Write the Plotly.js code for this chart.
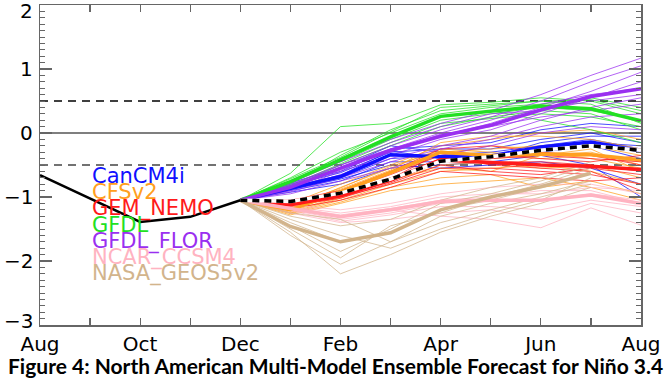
<!DOCTYPE html>
<html>
<head>
<meta charset="utf-8">
<script src="https://cdn.plot.ly/plotly-3.0.1.min.js"></script>
<style>
html,body{margin:0;padding:0;background:#fff;}
#chart{width:671px;height:378px;}
</style>
</head>
<body>
<div id="chart"></div>
<script>
// Axis month labels (Aug .. Aug), index 0..12
const monthLabels = ['Aug','Sep','Oct','Nov','Dec','Jan','Feb','Mar','Apr','May','Jun','Jul','Aug'];
const yTickValues = [2,1,0,-1,-2,-3];
const obsX = [0,1,2,3,4];
const obsValues = [-0.66,-1.02,-1.39,-1.31,-1.05];
const fcstX = [4,5,6,7,8,9,10,11,12];

const modelNames = ['CanCM4i','CFSv2','GEM_NEMO','GFDL','GFDL_FLOR','NCAR_CCSM4','NASA_GEOS5v2'];
const modelColors = ['#1010ff','#ffa020','#ff1a1a','#22e022','#9a2ff0','#ffb3c1','#d2b48c'];

const canMembers = [
  [-1.05,-0.80,-0.60,-0.25,-0.20,-0.15,0.05,0.15,0.10],
  [-1.05,-0.85,-0.70,-0.40,-0.35,-0.30,-0.20,-0.10,-0.25],
  [-1.05,-0.90,-0.75,-0.45,-0.45,-0.40,-0.30,-0.20,-0.40],
  [-1.05,-0.82,-0.62,-0.30,-0.25,-0.25,-0.10,0.00,-0.15],
  [-1.05,-0.88,-0.72,-0.50,-0.55,-0.50,-0.45,-0.55,-0.80],
  [-1.05,-0.78,-0.55,-0.20,-0.30,-0.35,-0.25,-0.15,-0.20],
  [-1.05,-0.92,-0.80,-0.55,-0.50,-0.45,-0.35,-0.50,-1.00],
  [-1.05,-0.84,-0.66,-0.28,-0.40,-0.38,-0.15,-0.05,-0.05]
];
const canMean = [-1.05,-0.86,-0.68,-0.34,-0.37,-0.36,-0.22,-0.14,-0.28];

const cfsMembers = [
  [-1.05,-1.10,-0.80,-0.50,-0.20,-0.10,0.00,0.05,-0.10],
  [-1.05,-1.15,-0.90,-0.60,-0.30,-0.25,-0.20,-0.15,-0.30],
  [-1.05,-1.20,-0.95,-0.70,-0.45,-0.40,-0.35,-0.30,-0.50],
  [-1.05,-1.25,-1.05,-0.80,-0.60,-0.55,-0.50,-0.60,-0.80],
  [-1.05,-1.18,-0.85,-0.55,-0.25,-0.30,-0.40,-0.35,-0.45],
  [-1.05,-1.22,-1.00,-0.75,-0.50,-0.45,-0.55,-0.50,-0.70],
  [-1.05,-1.12,-0.88,-0.58,-0.15,-0.05,-0.05,-0.10,-0.25],
  [-1.05,-1.28,-1.10,-0.90,-0.80,-0.75,-0.70,-0.85,-1.05],
  [-1.05,-1.16,-0.92,-0.62,-0.35,-0.20,-0.25,-0.20,-0.35],
  [-1.05,-1.24,-1.02,-0.72,-0.55,-0.60,-0.35,-0.25,-0.60],
  [-1.05,-1.14,-0.86,-0.52,-0.28,-0.35,-0.30,-0.40,-0.55],
  [-1.05,-1.26,-1.08,-0.85,-0.70,-0.65,-0.85,-0.75,-0.95]
];
const cfsMean = [-1.05,-1.20,-0.92,-0.62,-0.30,-0.35,-0.33,-0.34,-0.42];

const gemMembers = [
  [-1.05,-1.05,-0.90,-0.60,-0.25,-0.20,-0.30,-0.35,-0.50],
  [-1.05,-1.10,-0.95,-0.70,-0.40,-0.45,-0.45,-0.50,-0.60],
  [-1.05,-1.15,-1.00,-0.80,-0.55,-0.55,-0.60,-0.65,-0.80],
  [-1.05,-1.12,-0.98,-0.75,-0.45,-0.40,-0.35,-0.40,-0.45],
  [-1.05,-1.08,-0.92,-0.65,-0.35,-0.50,-0.55,-0.60,-0.90],
  [-1.05,-1.18,-1.05,-0.85,-0.60,-0.65,-0.70,-0.75,-0.70],
  [-1.05,-1.10,-0.96,-0.72,-0.30,-0.35,-0.40,-0.45,-0.35],
  [-1.05,-1.14,-1.02,-0.78,-0.50,-0.60,-0.65,-0.55,-0.65]
];
const gemMean = [-1.05,-1.12,-0.98,-0.74,-0.42,-0.46,-0.50,-0.52,-0.57];

const gfdlMembers = [
  [-1.05,-0.63,0.10,0.15,0.44,0.48,0.55,0.50,0.30],
  [-1.05,-0.80,-0.35,0.05,0.35,0.42,0.50,0.45,0.15],
  [-1.05,-0.75,-0.45,-0.10,0.20,0.30,0.40,0.35,0.20],
  [-1.05,-0.85,-0.50,-0.20,0.10,0.25,0.35,0.30,0.05],
  [-1.05,-0.70,-0.30,0.00,0.30,0.40,0.45,0.55,0.40],
  [-1.05,-0.78,-0.40,-0.05,0.25,0.35,0.20,0.05,-0.15],
  [-1.05,-0.72,-0.38,0.02,0.40,0.45,0.50,0.52,0.35],
  [-1.05,-0.82,-0.48,-0.15,0.15,0.22,0.30,0.25,0.10]
];
const gfdlMean = [-1.05,-0.76,-0.42,-0.06,0.26,0.34,0.42,0.38,0.19];

const florMembers = [
  [-1.05,-0.75,-0.40,-0.10,0.15,0.35,0.60,0.90,1.17],
  [-1.05,-0.80,-0.50,-0.20,0.05,0.25,0.50,0.80,1.05],
  [-1.05,-0.85,-0.55,-0.30,-0.05,0.15,0.40,0.65,0.95],
  [-1.05,-0.90,-0.60,-0.35,-0.10,0.05,0.30,0.55,0.80],
  [-1.05,-0.82,-0.50,-0.25,0.00,0.20,0.45,0.60,0.70],
  [-1.05,-0.88,-0.65,-0.40,-0.20,-0.05,0.20,0.40,0.55],
  [-1.05,-0.78,-0.45,-0.15,0.10,0.30,0.35,0.50,0.60],
  [-1.05,-0.92,-0.70,-0.45,-0.25,-0.10,0.10,0.25,0.30],
  [-1.05,-0.85,-0.58,-0.28,-0.02,0.10,0.25,0.35,0.45],
  [-1.05,-0.95,-0.75,-0.55,-0.35,-0.20,0.00,0.10,0.05]
];
const florMean = [-1.05,-0.85,-0.55,-0.27,-0.05,0.12,0.36,0.57,0.69];

const ncarMembers = [
  [-1.05,-1.15,-1.25,-1.15,-1.00,-0.95,-0.95,-0.85,-0.90],
  [-1.05,-1.20,-1.35,-1.25,-1.10,-1.05,-1.05,-0.95,-1.05],
  [-1.05,-1.25,-1.40,-1.35,-1.25,-1.20,-1.35,-1.10,-1.25],
  [-1.05,-1.18,-1.30,-1.20,-1.30,-1.35,-1.48,-1.17,-1.44],
  [-1.05,-1.12,-1.20,-1.10,-0.95,-0.85,-0.80,-0.80,-0.95],
  [-1.05,-1.22,-1.38,-1.28,-1.15,-1.15,-1.20,-1.05,-1.15],
  [-1.05,-1.16,-1.28,-1.18,-1.05,-1.00,-0.90,-0.90,-1.10]
];
const ncarMean = [-1.05,-1.18,-1.31,-1.20,-1.07,-1.05,-1.05,-0.97,-1.10];

const nasaMembers = [
  [-1.05,-1.40,-1.70,-1.55,-1.20,-1.05,-0.85,-0.60],
  [-1.05,-1.55,-2.20,-1.90,-1.55,-1.30,-1.10,-0.85],
  [-1.05,-1.30,-1.45,-1.35,-1.05,-0.85,-0.70,-0.45],
  [-1.05,-1.60,-2.05,-1.70,-1.30,-1.10,-0.95,-0.75],
  [-1.05,-1.25,-1.35,-1.70,-1.40,-1.20,-1.00,-0.80],
  [-1.05,-1.45,-1.85,-1.50,-1.10,-0.95,-0.75,-0.50],
  [-1.05,-1.35,-1.60,-1.80,-1.50,-1.25,-1.05,-0.70],
  [-1.05,-1.50,-1.95,-1.45,-1.25,-1.00,-0.80,-0.55]
];
const nasaMean = [-1.05,-1.46,-1.70,-1.56,-1.20,-1.00,-0.84,-0.63];

const nmmeMean = [-1.05,-1.07,-0.94,-0.72,-0.44,-0.37,-0.27,-0.20,-0.27];

const allMembers = [canMembers,cfsMembers,gemMembers,gfdlMembers,florMembers,ncarMembers,nasaMembers];
const allMeans = [canMean,cfsMean,gemMean,gfdlMean,florMean,ncarMean,nasaMean];

const traces = [];
allMembers.forEach((members,i)=>{
  members.forEach(m=>{
    traces.push({x:fcstX.slice(0,m.length),y:m,type:'scatter',mode:'lines',
      line:{color:modelColors[i],width:1},opacity:0.75,hoverinfo:'skip',showlegend:false});
  });
});
allMeans.forEach((m,i)=>{
  traces.push({x:fcstX.slice(0,m.length),y:m,type:'scatter',mode:'lines',
    line:{color:modelColors[i],width:3.5},hoverinfo:'skip',showlegend:false});
});
traces.push({x:fcstX,y:nmmeMean,type:'scatter',mode:'lines',line:{color:'#ffffff',width:3.5},hoverinfo:'skip',showlegend:false});
traces.push({x:fcstX,y:nmmeMean,type:'scatter',mode:'lines',line:{color:'#000000',width:3.5,dash:'7px,5px'},hoverinfo:'skip',showlegend:false});
traces.push({x:obsX,y:obsValues,type:'scatter',mode:'lines',line:{color:'#000000',width:2.5},hoverinfo:'skip',showlegend:false});

const legendY = [-0.67,-0.925,-1.18,-1.435,-1.69,-1.945,-2.20];
const annotations = modelNames.map((n,i)=>({
  x:1.0,y:legendY[i],xref:'x',yref:'y',text:n,showarrow:false,xanchor:'left',yanchor:'middle',
  font:{family:'DejaVu Sans, Liberation Sans, sans-serif',size:21,color:modelColors[i]}
}));
// y tick labels as text beside the axis; the end labels sit just inside the frame as in the original
yTickValues.forEach(v=>{
  annotations.push({
    x:0,y:v,xref:'paper',yref:'y',xanchor:'right',yanchor:'middle',xshift:-5,
    yshift:(v===2?-6:(v===-3?4:0)),showarrow:false,
    text:(v<0?'\u2212'+Math.abs(v):String(v)),
    font:{family:'DejaVu Sans, sans-serif',size:20,color:'#000'}
  });
});
annotations.push({
  xref:'paper',yref:'paper',x:0.491,y:-0.125,xanchor:'center',yanchor:'middle',showarrow:false,
  text:'Figure 4: North American Multi-Model Ensemble Forecast for Niño 3.4',
  font:{family:'Lato, sans-serif',size:21,color:'#000000',weight:700}
});

const axisColor = '#666666';
const layout = {
  width:671,height:378,
  margin:{l:40,r:30,t:5,b:53},
  paper_bgcolor:'#ffffff',plot_bgcolor:'#ffffff',
  showlegend:false,
  xaxis:{range:[0,12],tickvals:monthLabels.map((_,i)=>i),
    ticktext:monthLabels.map((t,i)=>i%2===0?t:''),
    ticks:'inside',ticklen:7,tickwidth:1.3,tickcolor:axisColor,
    showline:true,linecolor:axisColor,linewidth:1.5,mirror:'ticks',
    showgrid:false,zeroline:false,
    tickfont:{family:'DejaVu Sans, sans-serif',size:20,color:'#000'}},
  yaxis:{range:[-3,2],dtick:1,tick0:0,showticklabels:false,
    ticks:'inside',ticklen:12,tickwidth:1.3,tickcolor:axisColor,
    minor:{dtick:0.1,ticks:'inside',ticklen:5,tickcolor:axisColor,tickwidth:1},
    showline:true,linecolor:axisColor,linewidth:1.5,mirror:'ticks',
    showgrid:false,zeroline:false},
  shapes:[
    {type:'line',xref:'paper',x0:0,x1:1,yref:'y',y0:0,y1:0,line:{color:'#555555',width:1.3},layer:'below'},
    {type:'line',xref:'paper',x0:0,x1:1,yref:'y',y0:0.5,y1:0.5,line:{color:'#000000',width:1.5,dash:'8px,6px'},layer:'below'},
    {type:'line',xref:'paper',x0:0,x1:1,yref:'y',y0:-0.5,y1:-0.5,line:{color:'#444444',width:1.5,dash:'8px,6px'},layer:'below'}
  ],
  annotations:annotations
};
Plotly.newPlot('chart',traces,layout,{displayModeBar:false,staticPlot:true});
</script>
</body>
</html>
